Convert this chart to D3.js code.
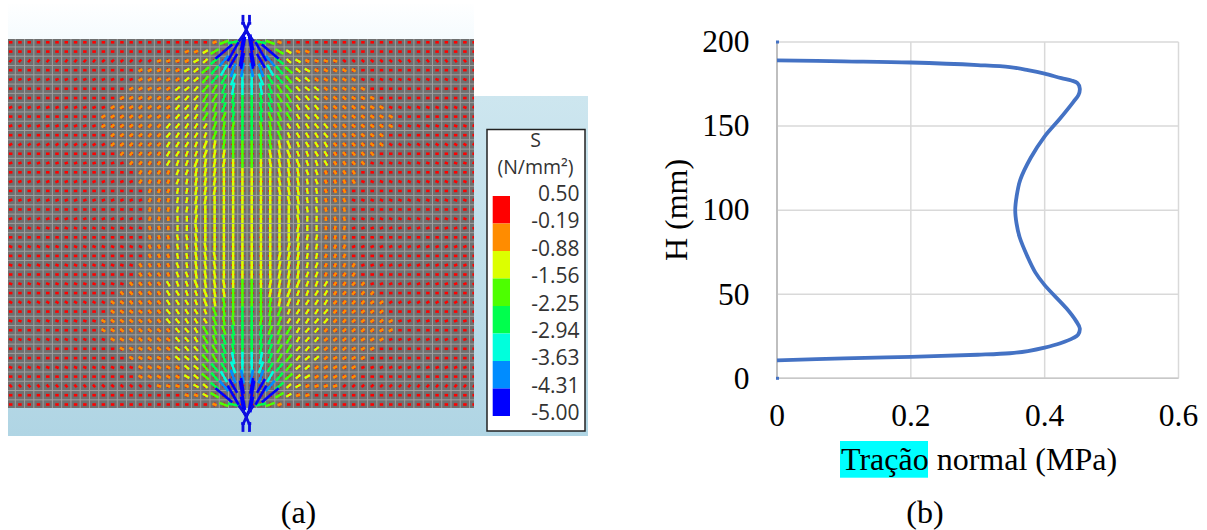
<!DOCTYPE html>
<html><head><meta charset="utf-8">
<script src="https://cdnjs.cloudflare.com/ajax/libs/d3/7.8.5/d3.min.js"></script>
<style>html,body{margin:0;padding:0;background:#fff}svg{display:block}</style>
</head><body><svg id="c" width="1207" height="530"></svg>
<script>
// ---------- panel (b): normal traction along the height
const tractionMPa = [0,0.1,0.2,0.3,0.348,0.375,0.4,0.425,0.44,0.449,0.4525,0.4505,0.443,0.423,0.3995,0.379,0.3635,0.358,0.356,0.358,0.3625,0.3745,0.386,0.4,0.4325,0.447,0.4525,0.45,0.443,0.4235,0.4,0.375,0.348,0.3,0.2,0.1,0];
const heightMm  = [189.1,188.5,187.8,186.3,185.1,183.3,181.2,178.5,177.1,175.5,172.3,168.5,164.4,154.5,143.6,131,118,108,100,92,84,72.2,63,55.4,41.6,34,29.7,26,24,20.8,18.2,16.2,14.9,14,12.8,11.8,10.7];
const extraPointsH = [200,0];
const xTicks = [0,0.2,0.4,0.6];
const yTicks = [0,50,100,150,200];
// ---------- panel (a): legend
const legendTitle = ["S","(N/mm²)"];
const legendLabels = ["0.50","-0.19","-0.88","-1.56","-2.25","-2.94","-3.63","-4.31","-5.00"];
const bandColors = ["#ff0000","#ff8c00","#dcff00","#4dff00","#00ff4d","#00ffdc","#008cff","#0000ff"];
// stress level per mesh node, low to high: 0 red, 1 orange, 2 short yellow, y long yellow, 3 lime, 4 green, 5 cyan, 6 azure, 7 blue, 8 and 9 above scale (blue, longer)
const levelOrder = ["0","1","2","y","3","4","5","6","7","8","9"];
const levelColorIndex = [0,1,2,2,3,4,5,6,7,7,7];
const levelLength = [3.5,4.5,6,8.5,9.5,10.5,12.5,14,16,22,30];
const bandRows = [
"000000000000000000000013477431000000000000000000000",
"000000000000000000011238899883211000000000000000000",
"000000000000000011112246777764221111000000000000000",
"000000000000001111122345666654322111110000000000000",
"000000000000001111122344555544322111110000000000000",
"000000000000011111222334555543322211111000000000000",
"000000000000111111222334444443322211111100000000000",
"000000000001111111222334444443322211111110000000000",
"000000000011111111222333444433322211111111000000000",
"000000000011111112222233344333222221111111000000000",
"000000000001111112222233344333222221111110000000000",
"000000000001111112222yy333333yy22221111110000000000",
"000000000000111112222yyy3333yyy22221111100000000000",
"00000000000001111222yyyyy33yyyyy2221111000000000000",
"00000000000000111122yyyyyyyyyyyy2211110000000000000",
"00000000000000111122yyyyyyyyyyyy2211110000000000000",
"00000000000000011122yyyyyyyyyyyy2211100000000000000",
"00000000000000011122yyyyyyyyyyyy2211100000000000000",
"00000000000000011122yyyyyyyyyyyy2211100000000000000",
"00000000000000011122yyyyyyyyyyyy2211100000000000000",
"00000000000000011122yyyyyyyyyyyy2211100000000000000",
"00000000000000011122yyyyyyyyyyyy2211100000000000000",
"00000000000000011122yyyyyyyyyyyy2211100000000000000",
"00000000000000011122yyyyyyyyyyyy2211100000000000000",
"00000000000000111122yyyyyyyyyyyy2211110000000000000",
"00000000000000111122yyyyyyyyyyyy2211110000000000000",
"00000000000001111222yyyyy33yyyyy2221111000000000000",
"000000000000111112222yyy3333yyy22221111100000000000",
"000000000001111112222yy333333yy22221111110000000000",
"000000000001111112222233344333222221111110000000000",
"000000000011111112222233344333222221111111000000000",
"000000000011111111222333444433322211111111000000000",
"000000000001111111222334444443322211111110000000000",
"000000000000111111222334444443322211111100000000000",
"000000000000011111222334555543322211111000000000000",
"000000000000001111122344555544322111110000000000000",
"000000000000001111122345666654322111110000000000000",
"000000000000000011112246777764221111000000000000000",
"000000000000000000011238899883211000000000000000000",
"000000000000000000000013477431000000000000000000000"];
// direction per node, tilt from vertical in 10 degree steps: a=0 ... j=90; lower case leans "/", upper case leans "\"
const tiltRows = [
"jjjjjjjjjjjjjjjjjjjjjjhhibBIHHJJJJJJJJJJJJJJJJJJJJJ",
"jjjjjjjjjjjjjjjjjjjhhggfdbBDFGGHHJJJJJJJJJJJJJJJJJJ",
"eeeeeeeeeeffffffhhhggffedbBDEFFGGHHHFFFFFFEEEEEEEEE",
"jjjjjjjjjjjjjjggggggffedcbBCDEFFGGGGGGJJJJJJJJJJJJJ",
"hhhhhhhhhhhhhhggggfffeedcaACDEEFFFGGGGHHHHHHHHHHHHH",
"jjjjjjjjjjjjjggggfffeedcbaABCDEEFFFGGGGJJJJJJJJJJJJ",
"jjjjjjjjjjjjgggffffeeddcbaABCDDEEFFFFGGGJJJJJJJJJJJ",
"hhhhhhhhhhhgggffffeeddccbaABCCDDEEFFFFGGGHHHHHHHHHH",
"jjjjjjjjjjggfffffeeeddccbaABCCDDEEEFFFFFGGJJJJJJJJJ",
"hhhhhhhhhhgffffeeeedddcbbaABBCDDDEEEEFFFFGHHHHHHHHH",
"jjjjjjjjjjjffffeeedddccbaaAABCCDDDEEEFFFFJJJJJJJJJJ",
"gggggggggggffeeeedddccbbaaAABBCCDDDEEEEFFGGGGGGGGGG",
"jjjjjjjjjjjjeeeedddcccbbaaAABBCCCDDDEEEEJJJJJJJJJJJ",
"hhhhhhhhhhhhheedddcccbbbaaAABBBCCCDDDEEHHHHHHHHHHHH",
"jjjjjjjjjjjjjjdddcccbbbaaaAAABBBCCCDDDJJJJJJJJJJJJJ",
"hhhhhhhhhhhhhhdccccbbbbaaaAAABBBBCCCCDHHHHHHHHHHHHH",
"jjjjjjjjjjjjjjjcccbbbbbaaaAAABBBBBCCCJJJJJJJJJJJJJJ",
"hhhhhhhhhhhhhhhccbbbbbaaaaAAAABBBBBCCHHHHHHHHHHHHHH",
"jjjjjjjjjjjjjjjbbbbbbaaaaaAAAAABBBBBBJJJJJJJJJJJJJJ",
"hhhhhhhhhhhhhhhbbaaabaaaaaAAAAABAAABBHHHHHHHHHHHHHH",
"HHHHHHHHHHHHHHHBBAAABAAAAAaaaaabaaabbhhhhhhhhhhhhhh",
"JJJJJJJJJJJJJJJBBBBBBAAAAAaaaaabbbbbbjjjjjjjjjjjjjj",
"HHHHHHHHHHHHHHHCCBBBBBAAAAaaaabbbbbcchhhhhhhhhhhhhh",
"JJJJJJJJJJJJJJJCCCBBBBBAAAaaabbbbbcccjjjjjjjjjjjjjj",
"HHHHHHHHHHHHHHDCCCCBBBBAAAaaabbbbccccdhhhhhhhhhhhhh",
"JJJJJJJJJJJJJJDDDCCCBBBAAAaaabbbcccdddjjjjjjjjjjjjj",
"HHHHHHHHHHHHHEEDDDCCCBBBAAaabbbcccdddeehhhhhhhhhhhh",
"JJJJJJJJJJJJEEEEDDDCCCBBAAaabbcccdddeeeejjjjjjjjjjj",
"GGGGGGGGGGGFFEEEEDDDCCBBAAaabbccdddeeeeffgggggggggg",
"JJJJJJJJJJJFFFFEEEDDDCCBAAaabccdddeeeffffjjjjjjjjjj",
"HHHHHHHHHHGFFFFEEEEDDDCBBAabbcdddeeeeffffghhhhhhhhh",
"JJJJJJJJJJGGFFFFFEEEDDCCBAabccddeeefffffggjjjjjjjjj",
"HHHHHHHHHHHGGGFFFFEEDDCCBAabccddeeffffggghhhhhhhhhh",
"JJJJJJJJJJJJGGGFFFFEEDDCBAabcddeeffffgggjjjjjjjjjjj",
"JJJJJJJJJJJJJGGGGFFFEEDCBAabcdeefffggggjjjjjjjjjjjj",
"HHHHHHHHHHHHHHGGGGFFFEEDCAacdeefffgggghhhhhhhhhhhhh",
"JJJJJJJJJJJJJJGGGGGGFFEDCBbcdeffggggggjjjjjjjjjjjjj",
"EEEEEEEEEEFFFFFFHHHGGFFEDBbdeffgghhhffffffeeeeeeeee",
"JJJJJJJJJJJJJJJJJJJHHGGFDBbdfgghhjjjjjjjjjjjjjjjjjj",
"JJJJJJJJJJJJJJJJJJJJJJHHIBbihhjjjjjjjjjjjjjjjjjjjjj"];
// load device at both supports, in mesh units: col1,row1,col2,row2
const loadGlyph = [
[25.06,-2.95,25.06,-2.2],[25.76,-2.95,25.76,-2.2],[24.87,-2.05,25.25,-2.05],[25.57,-2.05,25.95,-2.05],
[25.06,-2.15,25.82,-0.46],[25.76,-2.15,25.0,-0.46],[25.41,-1.2,24.6,-0.1],[25.41,-1.2,26.2,-0.1],
[25.06,41.95,25.06,41.2],[25.76,41.95,25.76,41.2],[24.87,41.05,25.25,41.05],[25.57,41.05,25.95,41.05],
[25.06,41.15,25.82,39.46],[25.76,41.15,25.0,39.46],[25.41,40.2,24.6,39.1],[25.41,40.2,26.2,39.1]];
const captions = ["(a)","(b)"];

const svg = d3.select("#c");
const serif = "'Liberation Serif','Times New Roman',serif";
const defs = svg.append("defs");
const grad = defs.append("linearGradient").attr("id","bg").attr("gradientUnits","userSpaceOnUse")
  .attr("x1",0).attr("x2",0).attr("y1",0).attr("y2",436);
[[0,"#ffffff"],[0.09,"#f5fbfe"],[0.22,"#cde6ef"],[1,"#b0d5e4"]].forEach(s=>grad.append("stop").attr("offset",s[0]).attr("stop-color",s[1]));
defs.append("filter").attr("id","soft").attr("x","-2%").attr("y","-2%").attr("width","104%").attr("height","104%")
  .append("feGaussianBlur").attr("stdDeviation",0.45);
defs.append("clipPath").attr("id","meshClip").append("rect").attr("x",8).attr("y",39).attr("width",466).attr("height",369);
defs.append("clipPath").attr("id","sideClip").append("rect").attr("x",8).attr("y",0).attr("width",466).attr("height",530);

// ---------- panel (a) background
const pa = svg.append("g");
pa.append("rect").attr("x",8).attr("y",4).attr("width",466).attr("height",432).attr("fill","url(#bg)");
pa.append("rect").attr("x",474).attr("y",96).attr("width",114).attr("height",340).attr("fill","url(#bg)");

// ---------- mesh and principal stress marks
const xMesh = d3.scaleLinear().domain([0,50]).range([10.67,474.17]);
const yMesh = d3.scaleLinear().domain([0,39]).range([42.3,404.5]);
const field = pa.append("g").attr("filter","url(#soft)").attr("clip-path","url(#sideClip)");
const mesh = field.append("g").attr("clip-path","url(#meshClip)");
mesh.append("rect").attr("x",8).attr("y",39).attr("width",466).attr("height",369).attr("fill","#6f6f6f");
mesh.selectAll("line.v").data(d3.range(0,51)).join("line").attr("class","v")
  .attr("x1",d=>xMesh(d+0.5)).attr("x2",d=>xMesh(d+0.5)).attr("y1",39).attr("y2",408).attr("stroke","#a0a0a0").attr("stroke-width",1);
mesh.selectAll("line.h").data(d3.range(-1,40)).join("line").attr("class","h")
  .attr("y1",d=>yMesh(d+0.5)).attr("y2",d=>yMesh(d+0.5)).attr("x1",8).attr("x2",474).attr("stroke","#a0a0a0").attr("stroke-width",1);

const nodes = [];
bandRows.forEach((row,r)=>{ for(let c=0;c<51;c++){
  const ch = tiltRows[r][c]||"j", low = ch.toLowerCase();
  const deg = (low.charCodeAt(0)-97)*10*(ch===low?1:-1);
  const level = Math.max(0,levelOrder.indexOf(row[c]||"0"));
  nodes.push({c,r,level,deg});
}});
const lengthOf = d3.scaleOrdinal().domain(d3.range(levelOrder.length)).range(levelLength);
const colorOf = l=>bandColors[levelColorIndex[l]];
const seg = (d,len,offset)=>{const t=(d.deg+offset)*Math.PI/180,dx=Math.sin(t)*len/2,dy=Math.cos(t)*len/2;
  return {x1:xMesh(d.c)-dx,y1:yMesh(d.r)+dy,x2:xMesh(d.c)+dx,y2:yMesh(d.r)-dy};};
// minor (tensile) mark across the main one
mesh.selectAll("line.minor").data(nodes.filter(d=>d.level>0)).join("line").attr("class","minor")
  .each(function(d){const s=seg(d,4,90);d3.select(this).attr("x1",s.x1).attr("y1",s.y1).attr("x2",s.x2).attr("y2",s.y2);})
  .attr("stroke","#ff0000").attr("stroke-width",1.5);
// main marks, low levels first
field.selectAll("line.main").data(nodes.slice().sort((a,b)=>a.level-b.level)).join("line").attr("class","main")
  .each(function(d){const s=seg(d,lengthOf(d.level),0);d3.select(this).attr("x1",s.x1).attr("y1",s.y1).attr("x2",s.x2).attr("y2",s.y2);})
  .attr("stroke",d=>colorOf(d.level)).attr("stroke-width",d=>d.level===2?2.4:2.6);
field.selectAll("line.load").data(loadGlyph).join("line").attr("class","load")
  .attr("x1",d=>xMesh(d[0])).attr("y1",d=>yMesh(d[1])).attr("x2",d=>xMesh(d[2])).attr("y2",d=>yMesh(d[3]))
  .attr("stroke","#0808e0").attr("stroke-width",2.8);

// ---------- legend
const lg = pa.append("g");
lg.append("rect").attr("x",487).attr("y",129.5).attr("width",98).attr("height",301.5).attr("fill","#fff").attr("stroke","#222").attr("stroke-width",1.5);
const legFont = "'Open Sans',sans-serif";
lg.selectAll("text.t").data(legendTitle).join("text").attr("class","t").attr("x",535.5).attr("y",(d,i)=>i?173.6:147)
  .attr("text-anchor","middle").attr("font-family",legFont).attr("font-size",19.5).attr("fill","#333").text(d=>d);
const yLegend = d3.scalePoint().domain(d3.range(legendLabels.length)).range([201,420]);
lg.selectAll("text.l").data(legendLabels).join("text").attr("class","l").attr("x",579.5).attr("y",(d,i)=>yLegend(i))
  .attr("text-anchor","end").attr("font-family",legFont).attr("font-size",21).attr("fill","#333").text(d=>d);
const ySwatch = d3.scaleBand().domain(d3.range(bandColors.length)).range([196,416]).padding(0);
lg.selectAll("rect.s").data(bandColors).join("rect").attr("class","s").attr("x",492.7).attr("width",17.3)
  .attr("y",(d,i)=>ySwatch(i)).attr("height",ySwatch.bandwidth()).attr("fill",d=>d);

// ---------- panel (b)
const x = d3.scaleLinear().domain([0,0.6]).range([777,1178.5]);
const y = d3.scaleLinear().domain([0,200]).range([378.3,42]);
const pb = svg.append("g");
pb.selectAll("line.gx").data(xTicks.slice(1)).join("line").attr("class","gx")
  .attr("x1",d=>x(d)).attr("x2",d=>x(d)).attr("y1",y(200)).attr("y2",y(0)).attr("stroke","#d9d9d9").attr("stroke-width",1.5);
pb.selectAll("line.gy").data(yTicks).join("line").attr("class","gy")
  .attr("x1",x(0)).attr("x2",x(0.6)).attr("y1",d=>y(d)).attr("y2",d=>y(d)).attr("stroke","#d9d9d9").attr("stroke-width",1.5);
pb.append("line").attr("x1",x(0)).attr("x2",x(0)).attr("y1",y(200)).attr("y2",y(0)).attr("stroke","#bfbfbf").attr("stroke-width",2);
pb.append("line").attr("x1",x(0)).attr("x2",x(0.6)).attr("y1",y(0)).attr("y2",y(0)).attr("stroke","#c8c8c8").attr("stroke-width",1.5);
const pts = tractionMPa.map((v,i)=>[v,heightMm[i]]);
pb.append("path").attr("d",d3.line().x(d=>x(d[0])).y(d=>y(d[1])).curve(d3.curveCatmullRom.alpha(0.5))(pts))
  .attr("fill","none").attr("stroke","#4472c4").attr("stroke-width",3.8).attr("stroke-linejoin","round");
pb.selectAll("rect.pt").data(extraPointsH).join("rect").attr("class","pt")
  .attr("x",x(0)-1).attr("width",3).attr("y",d=>y(d)-1.5).attr("height",3).attr("fill","#4472c4");
const tickSize = 31.5;
pb.selectAll("text.xt").data(xTicks).join("text").attr("class","xt").attr("x",d=>x(d)).attr("y",426)
  .attr("text-anchor","middle").attr("font-family",serif).attr("font-size",tickSize).attr("fill","#000").text(d=>d);
pb.selectAll("text.yt").data(yTicks).join("text").attr("class","yt").attr("x",749.5).attr("y",d=>y(d)+10.3)
  .attr("text-anchor","end").attr("font-family",serif).attr("font-size",tickSize).attr("fill","#000").text(d=>d);
pb.append("rect").attr("x",840).attr("y",441).attr("width",88).attr("height",36.7).attr("fill","#00ffff");
pb.append("text").attr("x",841).attr("y",470).attr("font-family",serif).attr("font-size",32).attr("fill","#000").text("Tração normal (MPa)");
pb.append("text").attr("transform","translate(687,210) rotate(-90)").attr("text-anchor","middle")
  .attr("font-family",serif).attr("font-size",32).attr("fill","#000").text("H (mm)");
svg.selectAll("text.cap").data(captions).join("text").attr("class","cap")
  .attr("x",(d,i)=>i?925:298.5).attr("y",523).attr("text-anchor","middle").attr("font-family",serif).attr("font-size",32).attr("fill","#000").text(d=>d);
</script></body></html>
